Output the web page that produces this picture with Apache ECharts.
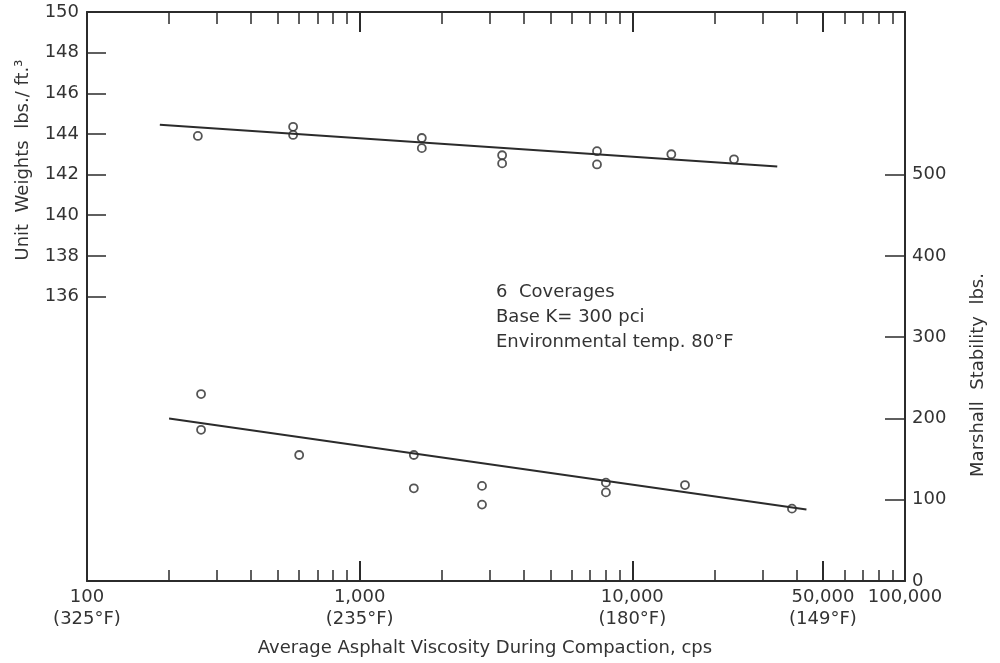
<!DOCTYPE html>
<html>
<head>
<meta charset="utf-8">
<script src="https://cdn.jsdelivr.net/npm/echarts@6/dist/echarts.min.js"></script>
<style>
    html, body { margin: 0; padding: 0; background: #fff; }
    #chart { width: 1000px; height: 663px; }
</style>
</head>
<body>
<div id="chart"></div>
<script>
// x axis (log): labelled values and their two-line labels
const viscosityTicks = [100, 1000, 10000, 50000, 100000]
const viscosityLabels = ['100\n(325°F)', '1,000\n(235°F)', '10,000\n(180°F)', '50,000\n(149°F)', '100,000']
const majorTicks = [1000, 10000, 50000]
const minorTicks = [200, 300, 400, 500, 600, 700, 800, 900,
    2000, 3000, 4000, 5000, 6000, 7000, 8000, 9000,
    20000, 30000, 40000, 60000, 70000, 80000, 90000]

// left axis: unit weights
const unitWeightLabels = [136, 138, 140, 142, 144, 146, 148, 150]
const unitWeightTicks = [136, 138, 140, 142, 144, 146, 148]
// right axis: marshall stability
const stabilityLabels = [0, 100, 200, 300, 400, 500]
const stabilityTicks = [100, 200, 300, 400, 500]

// unit weight measurements
const unitWeightVisc = [255, 570, 570, 1690, 1690, 3330, 3330, 7420, 7420, 13900, 23600]
const unitWeightVals = [143.9, 144.35, 143.95, 143.8, 143.3, 142.95, 142.55, 143.15, 142.5, 143.0, 142.75]
const unitWeightFitVisc = [185, 34000]
const unitWeightFitVals = [144.45, 142.4]

// marshall stability measurements
const stabilityVisc = [262, 262, 600, 1580, 1580, 2810, 2810, 8000, 8000, 15600, 38500]
const stabilityVals = [230, 186, 155, 155, 114, 117, 94, 121, 109, 118, 89]
const stabilityFitVisc = [200, 43500]
const stabilityFitVals = [200, 88]

const ink = '#2b2b2b'
const font = 'DejaVu Sans'

const pairs = (xs, ys) => xs.map((x, i) => [x, ys[i]])

const labelFor = value => {
    const i = viscosityTicks.findIndex(t => Math.abs(Math.log10(t) - Math.log10(value)) < 0.001)
    return i >= 0 ? viscosityLabels[i] : ''
}

const logAxis = (position, extra) => Object.assign({
    type: 'log',
    logBase: 10,
    min: 100,
    max: 100000,
    position: position,
    axisLine: { show: false },
    axisLabel: { show: false },
    axisTick: { show: false },
    splitLine: { show: false },
    minorTick: { show: false },
}, extra)

const chart = echarts.init(document.getElementById('chart'))

chart.setOption({
    animation: false,
    backgroundColor: '#fff',
    textStyle: { fontFamily: font },
    grid: { left: 87, right: 95, top: 12, bottom: 82 },
    xAxis: [
        logAxis('bottom', {
            axisLine: { show: true, lineStyle: { color: ink, width: 2 } },
            axisTick: { show: true, inside: true, length: 20, customValues: majorTicks, lineStyle: { color: ink, width: 2 } },
            axisLabel: {
                show: true,
                customValues: viscosityTicks,
                formatter: labelFor,
                color: '#333',
                fontFamily: font,
                fontSize: 18,
                lineHeight: 22,
                margin: 5,
                showMinLabel: true,
                showMaxLabel: true,
            },
        }),
        logAxis('bottom', {
            axisTick: { show: true, inside: true, length: 11, customValues: minorTicks, lineStyle: { color: ink, width: 1.5 } },
        }),
        logAxis('top', {
            axisLine: { show: true, lineStyle: { color: ink, width: 2 } },
            axisTick: { show: true, inside: true, length: 20, customValues: majorTicks, lineStyle: { color: ink, width: 2 } },
        }),
        logAxis('top', {
            axisTick: { show: true, inside: true, length: 12, customValues: minorTicks, lineStyle: { color: ink, width: 1.5 } },
        }),
    ],
    yAxis: [
        {
            type: 'value',
            position: 'left',
            min: 122,
            max: 150,
            interval: 2,
            axisLine: { show: true, lineStyle: { color: ink, width: 2 } },
            axisTick: { show: true, inside: true, length: 19, customValues: unitWeightTicks, lineStyle: { color: ink, width: 1.5 } },
            axisLabel: { customValues: unitWeightLabels, color: '#333', fontFamily: font, fontSize: 18, margin: 8 },
            splitLine: { show: false },
        },
        {
            type: 'value',
            position: 'right',
            min: 0,
            max: 700,
            interval: 100,
            axisLine: { show: true, lineStyle: { color: ink, width: 2 } },
            axisTick: { show: true, inside: true, length: 20, customValues: stabilityTicks, lineStyle: { color: ink, width: 1.5 } },
            axisLabel: { customValues: stabilityLabels, color: '#333', fontFamily: font, fontSize: 18, margin: 7 },
            splitLine: { show: false },
        },
    ],
    graphic: [
        {
            type: 'text', x: 23, y: 160, rotation: Math.PI / 2,
            style: { text: 'Unit  Weights  lbs./ ft.³', fill: '#333', font: '18px "DejaVu Sans"', align: 'center', verticalAlign: 'middle' },
        },
        {
            type: 'text', x: 978, y: 375, rotation: Math.PI / 2,
            style: { text: 'Marshall  Stability  lbs.', fill: '#333', font: '18px "DejaVu Sans"', align: 'center', verticalAlign: 'middle' },
        },
        {
            type: 'text', x: 485, y: 648,
            style: { text: 'Average Asphalt Viscosity During Compaction, cps', fill: '#333', font: '18px "DejaVu Sans"', align: 'center', verticalAlign: 'middle' },
        },
        {
            type: 'text', x: 496, y: 292,
            style: { text: '6  Coverages', fill: '#333', font: '18px "DejaVu Sans"', align: 'left', verticalAlign: 'middle' },
        },
        {
            type: 'text', x: 496, y: 317,
            style: { text: 'Base K= 300 pci', fill: '#333', font: '18px "DejaVu Sans"', align: 'left', verticalAlign: 'middle' },
        },
        {
            type: 'text', x: 496, y: 342,
            style: { text: 'Environmental temp. 80°F', fill: '#333', font: '18px "DejaVu Sans"', align: 'left', verticalAlign: 'middle' },
        },
    ],
    series: [
        {
            name: 'Unit weight fit',
            type: 'line',
            xAxisIndex: 0,
            yAxisIndex: 0,
            showSymbol: false,
            lineStyle: { color: ink, width: 2 },
            data: pairs(unitWeightFitVisc, unitWeightFitVals),
        },
        {
            name: 'Unit weight',
            type: 'scatter',
            xAxisIndex: 0,
            yAxisIndex: 0,
            symbol: 'circle',
            symbolSize: 8,
            itemStyle: { color: '#fff', borderColor: ink, borderWidth: 1.8 },
            data: pairs(unitWeightVisc, unitWeightVals),
        },
        {
            name: 'Stability fit',
            type: 'line',
            xAxisIndex: 0,
            yAxisIndex: 1,
            showSymbol: false,
            lineStyle: { color: ink, width: 2 },
            data: pairs(stabilityFitVisc, stabilityFitVals),
        },
        {
            name: 'Stability',
            type: 'scatter',
            xAxisIndex: 0,
            yAxisIndex: 1,
            symbol: 'circle',
            symbolSize: 8,
            itemStyle: { color: '#fff', borderColor: ink, borderWidth: 1.8 },
            data: pairs(stabilityVisc, stabilityVals),
        },
    ],
})
</script>
</body>
</html>
